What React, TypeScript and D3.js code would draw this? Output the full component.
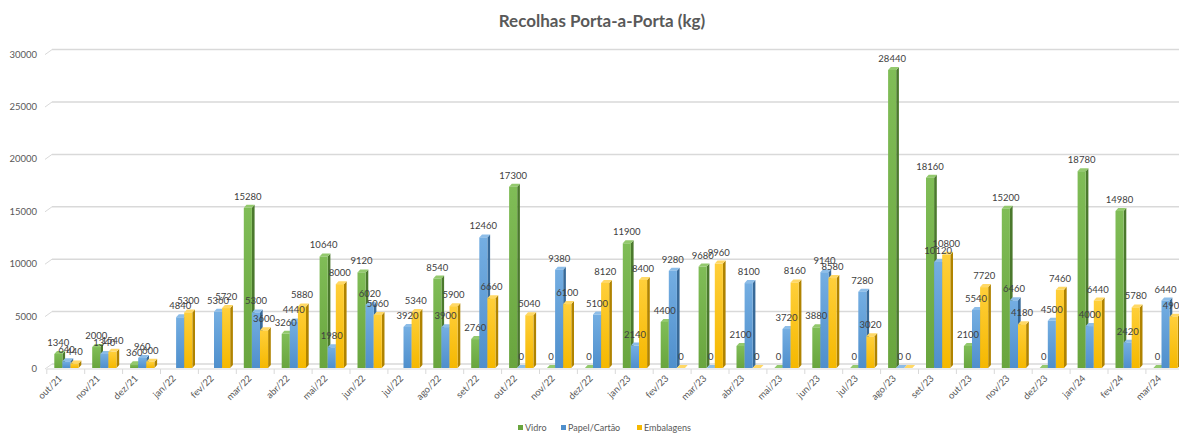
import React from "react";
import * as d3 from "d3";

const months = ["out/21","nov/21","dez/21","jan/22","fev/22","mar/22","abr/22","mai/22","jun/22","jul/22","ago/22","set/22","out/22","nov/22","dez/22","jan/23","fev/23","mar/23","abr/23","mai/23","jun/23","jul/23","ago/23","set/23","out/23","nov/23","dez/23","jan/24","fev/24","mar/24"];
const vidro: (number | null)[] = [1340,2000,360,null,null,15280,3260,10640,9120,null,8540,2760,17300,0,0,11900,4400,9680,2100,0,3880,0,28440,18160,2100,15200,0,18780,14980,0];
const papel: (number | null)[] = [640,1340,960,4840,5360,5300,4440,1980,6020,3920,3900,12460,0,9380,5100,2140,9280,0,8100,3720,9140,7280,0,10120,5540,6460,4500,4000,2420,6440];
const embalagens: (number | null)[] = [440,1540,600,5300,5720,3600,5880,8000,5060,5340,5900,6660,5040,6100,8120,8400,0,9960,0,8160,8580,3020,0,10800,7720,4180,7460,6440,5780,4900];
const yTicks = [0,5000,10000,15000,20000,25000,30000];
const seriesNames = ["Vidro","Papel/Cartão","Embalagens"];

const W = 1179, H = 433;
const FONT = "Lato, 'Open Sans', sans-serif";
const series = [
  { name: seriesNames[0], values: vidro, front: ["#80bd57", "#69a53e"], side: "#4b792d", top: "#93c96d" },
  { name: seriesNames[1], values: papel, front: ["#74aee2", "#4f8fcc"], side: "#386a99", top: "#8dbde8" },
  { name: seriesNames[2], values: embalagens, front: ["#ffcf3a", "#f5b800"], side: "#b08300", top: "#ffd865" },
];

export default function App() {
  const step = 37.9;
  const x = d3.scaleBand<string>().domain(months).range([46.8, 46.8 + step * months.length]).paddingInner(0).paddingOuter(0);
  const inner = d3.scaleBand<string>().domain(seriesNames).range([7.5, 7.5 + 3 * 8.1]);
  const yBack = d3.scaleLinear().domain([0, 30000]).range([364, 49.6]);
  const yFront = d3.scaleLinear().domain([0, 30000]).range([368, 53.6]);
  const dx = 2.7, dy = -3;
  const bw = inner.bandwidth();

  return (
    <svg width={W} height={H} style={{ position: "absolute", left: 0, top: 0, display: "block", background: "#fff" }} fontFamily={FONT}>
      <defs>
        {series.map((s, i) => (
          <linearGradient key={i} id={`g${i}`} x1="0" y1="0" x2="0" y2="1">
            <stop offset="0" stopColor={s.front[0]} />
            <stop offset="1" stopColor={s.front[1]} />
          </linearGradient>
        ))}
      </defs>
      <text x={602} y={27} textAnchor="middle" fontSize={17} fontWeight="bold" fill="#595959">Recolhas Porta-a-Porta (kg)</text>
      {yTicks.map((t) => (
        <g key={t}>
          <line x1={52} x2={W} y1={yBack(t)} y2={yBack(t)} stroke="#d9d9d9" strokeWidth={1.5} />
          <line x1={45} x2={52} y1={yFront(t) + 1} y2={yBack(t)} stroke="#d9d9d9" strokeWidth={1} />
          <text x={37} y={yFront(t) + 4} textAnchor="end" fontSize={9.5} fill="#595959">{t}</text>
        </g>
      ))}
      <line x1={47} x2={W} y1={369} y2={369} stroke="#d9d9d9" strokeWidth={1} />
      {months.map((m) => (
        <line key={m} x1={x(m)!} x2={x(m)!} y1={369} y2={374} stroke="#d9d9d9" strokeWidth={1} />
      ))}
      {months.map((m, i) => (
        <g key={m}>
          {series.map((s, si) => {
            const v = s.values[i];
            if (v === null) return null;
            const x0 = x(m)! + inner(s.name)!;
            const x1 = x0 + bw;
            const yb = yFront(0);
            const yt = yFront(v);
            return (
              <g key={si}>
                <path d={`M${x1},${yb}L${x1 + dx},${yb + dy}L${x1 + dx},${yt + dy}L${x1},${yt}Z`} fill={s.side} />
                <path d={`M${x0},${yt}L${x0 + dx},${yt + dy}L${x1 + dx},${yt + dy}L${x1},${yt}Z`} fill={s.top} />
                {v > 0 && <rect x={x0} y={yt} width={bw} height={yb - yt} fill={`url(#g${si})`} />}
              </g>
            );
          })}
        </g>
      ))}
      {months.map((m, i) => (
        <g key={m}>
          {series.map((s, si) => {
            const v = s.values[i];
            if (v === null) return null;
            const cx = x(m)! + inner(s.name)! + bw / 2;
            return (
              <text key={si} x={cx} y={yFront(v) - 8} textAnchor="middle" fontSize={9.5} fill="#404040">{v}</text>
            );
          })}
        </g>
      ))}
      {months.map((m) => {
        const cx = x(m)! + x.bandwidth() / 2 - 3;
        return (
          <text key={m} transform={`translate(${cx},${379}) rotate(-45)`} textAnchor="end" fontSize={9.5} fill="#595959">{m}</text>
        );
      })}
      {[{ sx: 518, tx: 525 }, { sx: 561, tx: 568 }, { sx: 637, tx: 644 }].map((p, i) => (
        <g key={i}>
          <rect x={p.sx} y={425} width={5} height={5} fill={series[i].front[1]} />
          <text x={p.tx} y={431} fontSize={9} fill="#595959">{series[i].name}</text>
        </g>
      ))}
    </svg>
  );
}
